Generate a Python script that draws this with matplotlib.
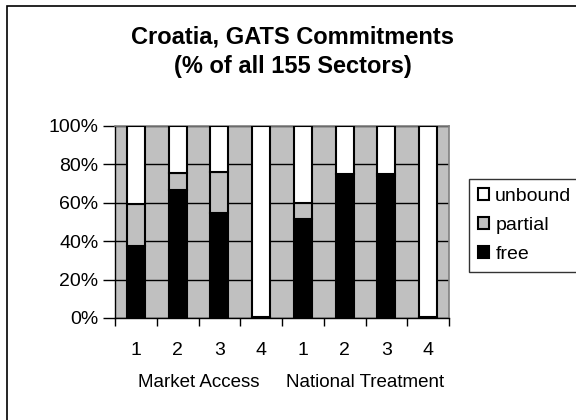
import matplotlib.pyplot as plt
from matplotlib.patches import Rectangle
from matplotlib.ticker import PercentFormatter, FixedLocator

plt.rcParams['font.family'] = ['Liberation Sans', 'DejaVu Sans']

# share of the 155 sectors (percent), market access 1-4 then national treatment 1-4
categories = ['1', '2', '3', '4', '1', '2', '3', '4']
groups = ['Market Access', 'National Treatment']
free = [37.4, 66.5, 54.8, 0.6, 51.6, 75.0, 74.2, 0.6]
partial = [22.0, 9.0, 21.3, 0.0, 8.4, 0.0, 0.6, 0.0]
unbound = [100 - f - p for f, p in zip(free, partial)]

fig = plt.figure(figsize=(5.76, 4.2), dpi=100)
ax = fig.add_axes([115 / 576, 1 - 318 / 420, 334 / 576, 192 / 420])
ax.set_facecolor('#c0c0c0')

x = list(range(len(categories)))
w = 0.43
bottom2 = free
bottom3 = [f + p for f, p in zip(free, partial)]
b1 = ax.bar(x, free, w, color='black', edgecolor='black', linewidth=1.5, label='free', zorder=3)
b2 = ax.bar(x, partial, w, bottom=bottom2, color='#c0c0c0', edgecolor='black', linewidth=1.5,
            label='partial', zorder=3)
b3 = ax.bar(x, unbound, w, bottom=bottom3, color='white', edgecolor='black', linewidth=1.5,
            label='unbound', zorder=3)

ax.set_xlim(-0.5, len(categories) - 0.5)
ax.set_ylim(0, 100)
ax.yaxis.set_major_locator(FixedLocator([0, 20, 40, 60, 80, 100]))
ax.yaxis.set_major_formatter(PercentFormatter(decimals=0))
ax.grid(axis='y', color='black', linewidth=1.0, zorder=1)

ax.set_xticks(x)
ax.set_xticklabels(categories)
ax.set_xticks([i - 0.5 for i in range(len(categories) + 1)], minor=True)
ax.tick_params(axis='x', which='major', length=0, pad=17, labelsize=14)
ax.tick_params(axis='x', which='minor', length=6, width=1, direction='out')
ax.tick_params(axis='y', length=9, width=1, direction='out', pad=3, labelsize=14)

for side in ['top', 'right']:
    ax.spines[side].set_color('#808080')
    ax.spines[side].set_linewidth(1.2)
for side in ['left', 'bottom']:
    ax.spines[side].set_color('black')
    ax.spines[side].set_linewidth(1.0)

# group labels under each block of four bars
for i, g in enumerate(groups):
    ax.text(1.5 + 4 * i, -0.335, g, transform=ax.get_xaxis_transform(),
            ha='center', va='center', fontsize=13.5)

fig.text(0.508, 1 - 37 / 420, 'Croatia, GATS Commitments', ha='center', va='center',
         fontsize=17, fontweight='bold')
fig.text(0.508, 1 - 67 / 420, '(% of all 155 Sectors)', ha='center', va='center',
         fontsize=17, fontweight='bold')

leg = fig.legend(handles=[b3, b2, b1], labels=['unbound', 'partial', 'free'],
                 loc='upper left', bbox_to_anchor=(469 / 576, 1 - 179 / 420),
                 frameon=True, fancybox=False, edgecolor='black', fontsize=14,
                 handlelength=0.6, handleheight=0.6, handletextpad=0.3,
                 borderpad=0.45, labelspacing=0.62, borderaxespad=0)
leg.get_frame().set_linewidth(1.0)

# chart-area border (left and top)
fig.patches.append(Rectangle((7 / 576, -0.1), 1.2, 1 - 6 / 420 + 0.1, transform=fig.transFigure,
                             fill=False, edgecolor='black', linewidth=1.2))

fig.savefig('out.png', dpi=100)
